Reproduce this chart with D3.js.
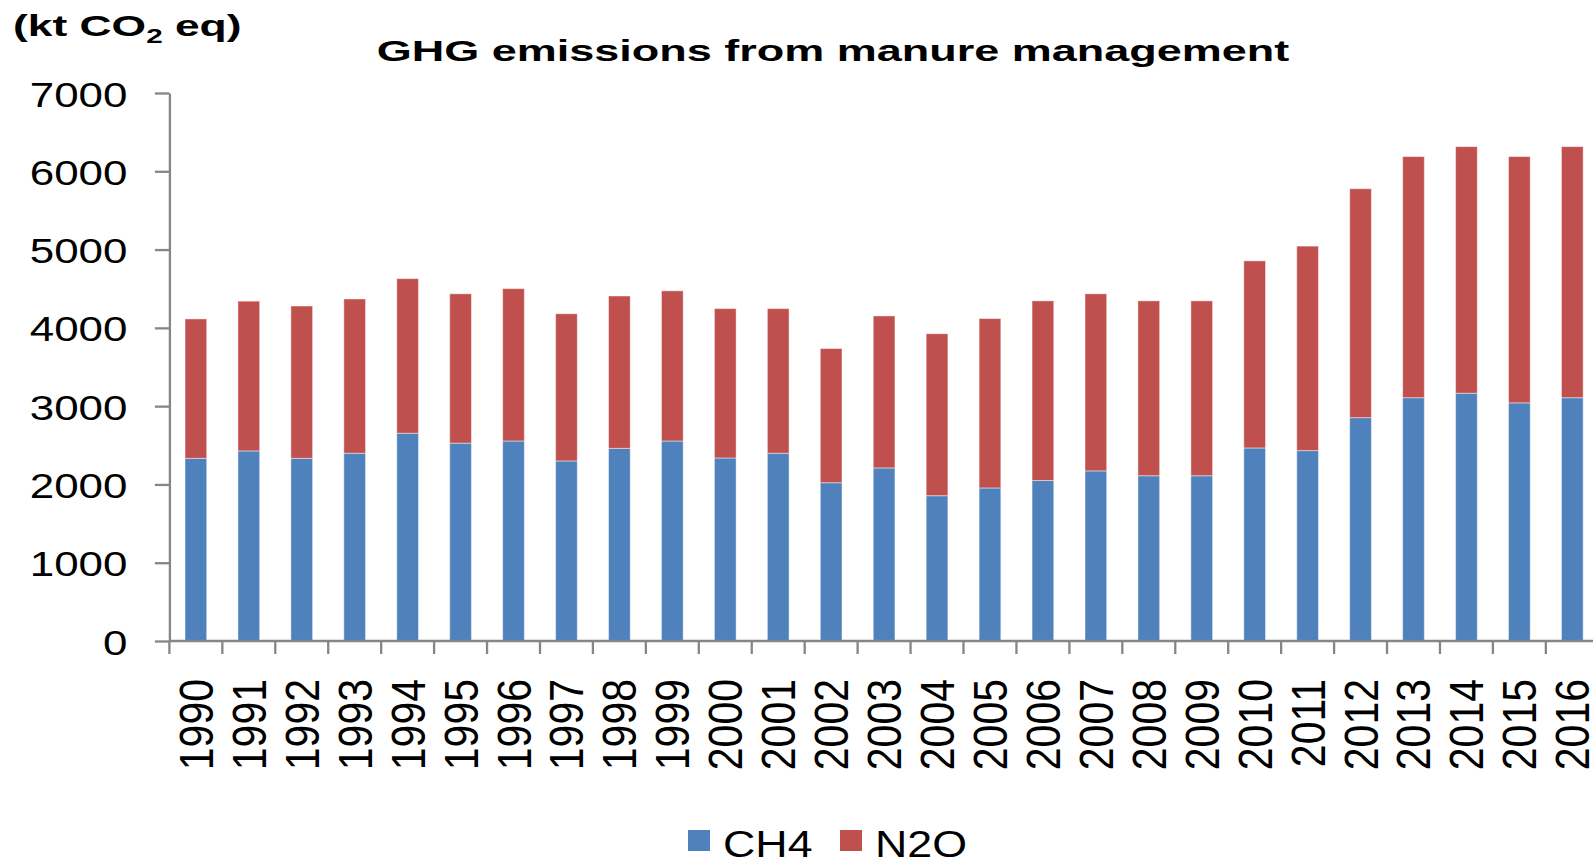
<!DOCTYPE html>
<html>
<head>
<meta charset="utf-8">
<script src="https://cdn.jsdelivr.net/npm/d3@7"></script>
<style>
  body { margin: 0; background: #fff; }
  text { font-family: "Liberation Sans", Arial, sans-serif; fill: #000; }
</style>
</head>
<body>
<div id="chart"></div>
<script>
// chart data
const years = ["1990","1991","1992","1993","1994","1995","1996","1997","1998","1999",
  "2000","2001","2002","2003","2004","2005","2006","2007","2008","2009",
  "2010","2011","2012","2013","2014","2015","2016"];
const ch4 = [2333,2428,2333,2399,2654,2527,2555,2300,2461,2555,
  2338,2399,2022,2211,1856,1955,2050,2173,2111,2111,
  2466,2432,2853,3108,3165,3042,3108];
const n2o = [1781,1913,1946,1970,1975,1908,1946,1880,1946,1918,
  1908,1847,1714,1941,2069,2164,2295,2262,2234,2234,
  2390,2612,2924,3080,3150,3146,3207];
const yTicks = [0,1000,2000,3000,4000,5000,6000,7000];
const seriesNames = ["CH4","N2O"];
const colors = ["#4F81BD","#C0504D"];

const width = 1593;
const height = 864;
const axisColor = "#868686";

const svg = d3.select("#chart").append("svg")
  .attr("width", width)
  .attr("height", height);

// scales
const x = d3.scaleBand()
  .domain(years)
  .range([169.4, 169.4 + 27 * 52.94])
  .paddingInner(0.59)
  .paddingOuter(0.295);

const y = d3.scaleLinear()
  .domain([0, 7000])
  .range([641, 93]);

// stacked data
const rows = years.map((yr, i) => ({year: yr, CH4: ch4[i], N2O: n2o[i]}));
const stacked = d3.stack().keys(seriesNames)(rows);

svg.append("g")
  .selectAll("g")
  .data(stacked)
  .enter()
  .append("g")
  .attr("fill", (d, i) => colors[i])
  .selectAll("rect")
  .data(d => d)
  .enter()
  .append("rect")
  .attr("x", d => x(d.data.year))
  .attr("y", d => y(d[1]))
  .attr("width", x.bandwidth())
  .attr("height", d => y(d[0]) - y(d[1]))
  .attr("stroke", "rgba(255,255,255,0.45)")
  .attr("stroke-width", 1);

// y axis
const yAxis = svg.append("g")
  .attr("transform", "translate(169.4,0)")
  .call(d3.axisLeft(y).tickValues(yTicks).tickSize(14.5).tickSizeOuter(0).tickFormat(d3.format("d")));

yAxis.select(".domain").attr("stroke", axisColor).attr("stroke-width", 2.3);
yAxis.selectAll(".tick line").attr("stroke", axisColor).attr("stroke-width", 2.3);
yAxis.selectAll(".tick text")
  .attr("x", null)
  .attr("dy", null)
  .attr("transform", "translate(-42,13) scale(1.22,1)")
  .attr("text-anchor", "end")
  .style("font-size", "36px")
  .style("font-family", "'Liberation Sans', Arial, sans-serif")
  .attr("fill", "#000");

// x axis line and ticks at category boundaries
const step = x.step();
const edges = d3.range(years.length + 1).map(i => x.range()[0] + i * step);

svg.append("line")
  .attr("x1", x.range()[0])
  .attr("x2", x.range()[1])
  .attr("y1", y(0))
  .attr("y2", y(0))
  .attr("stroke", axisColor)
  .attr("stroke-width", 2.3);

svg.append("g")
  .selectAll("line")
  .data(edges)
  .enter()
  .append("line")
  .attr("x1", d => d)
  .attr("x2", d => d)
  .attr("y1", y(0))
  .attr("y2", y(0) + 13)
  .attr("stroke", axisColor)
  .attr("stroke-width", 2.3);

// rotated year labels
svg.append("g")
  .selectAll("text")
  .data(years)
  .enter()
  .append("text")
  .attr("transform", d => `translate(${x(d) + x.bandwidth() / 2 + 17},679) scale(1.16,1) rotate(-90)`)
  .attr("text-anchor", "end")
  .style("font-size", "41px")
  .text(d => d);

// title
svg.append("text")
  .attr("transform", "translate(833,61) scale(1.5,1)")
  .attr("text-anchor", "middle")
  .style("font-size", "30px")
  .style("font-weight", "bold")
  .text("GHG emissions from manure management");

// unit label
const unit = svg.append("text")
  .attr("transform", "translate(13,36) scale(1.48,1)")
  .style("font-size", "30px")
  .style("font-weight", "bold");
unit.append("tspan").text("(kt CO");
unit.append("tspan").attr("dy", 7).style("font-size", "20px").text("2");
unit.append("tspan").attr("dy", -7).text(" eq)");

// legend
const legendX = [688, 840];
const legend = svg.append("g")
  .selectAll("g")
  .data(seriesNames)
  .enter()
  .append("g")
  .attr("transform", (d, i) => `translate(${legendX[i]},830)`);

legend.append("rect")
  .attr("width", 22)
  .attr("height", 21)
  .attr("fill", (d, i) => colors[i]);

legend.append("text")
  .attr("transform", "translate(35,27) scale(1.21,1)")
  .style("font-size", "37px")
  .text(d => d);
</script>
</body>
</html>
